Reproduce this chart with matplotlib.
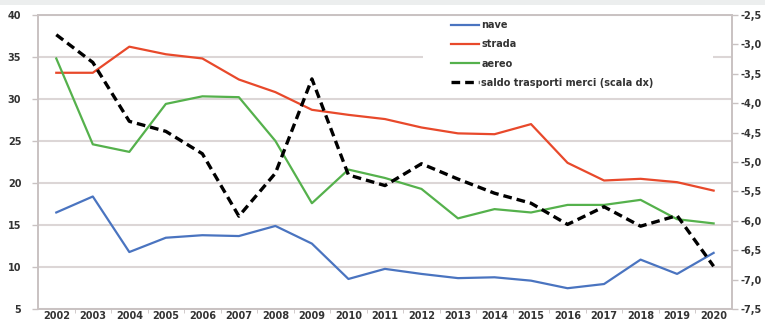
import numpy as np
import matplotlib.pyplot as plt
from matplotlib.patches import Rectangle
from matplotlib.ticker import FuncFormatter

anni = [str(a) for a in range(2002, 2021)]

nave = [16.5, 18.4, 11.8, 13.5, 13.8, 13.7, 14.9, 12.8, 8.6, 9.8, 9.2, 8.7, 8.8, 8.4, 7.5, 8.0, 10.9, 9.2, 11.7]
strada = [33.1, 33.1, 36.2, 35.3, 34.8, 32.3, 30.8, 28.7, 28.1, 27.6, 26.6, 25.9, 25.8, 27.0, 22.4, 20.3, 20.5, 20.1, 19.1]
aereo = [34.8, 24.6, 23.7, 29.4, 30.3, 30.2, 25.0, 17.6, 21.6, 20.6, 19.3, 15.8, 16.9, 16.5, 17.4, 17.4, 18.0, 15.7, 15.2]
saldo = [-2.84, -3.31, -4.31, -4.48, -4.86, -5.92, -5.19, -3.59, -5.22, -5.40, -5.03, -5.29,
         -5.53, -5.70, -6.06, -5.76, -6.09, -5.91, -6.77]

testo = '#333333'
bordo = '#c9c2c2'

plt.rcParams['font.family'] = ['DejaVu Sans']
plt.rcParams['font.weight'] = 'bold'

fig = plt.figure(figsize=(7.65, 3.23), dpi=100)
fig.patches.append(Rectangle((0, 0.985), 1, 0.015, transform=fig.transFigure,
                             facecolor='#eceeee', edgecolor='none'))
ax = fig.add_axes([0.0497, 0.0425, 0.907, 0.912])
x = np.arange(len(anni))

# griglia orizzontale sotto le serie
ax.set_axisbelow(True)
ax.yaxis.grid(True, color='#dcd6d6', linewidth=1.5)
ax.add_patch(Rectangle((0.555, 0.72), 0.418, 0.27, transform=ax.transAxes,
                       facecolor='white', edgecolor='none', zorder=1))

l1, = ax.plot(x, nave, color='#4a74c0', lw=1.6, label='nave', zorder=3)
l2, = ax.plot(x, strada, color='#e8492b', lw=1.6, label='strada', zorder=3)
l3, = ax.plot(x, aereo, color='#55b14c', lw=1.6, label='aereo', zorder=3)

ax.set_xlim(-0.5, len(anni) - 0.5)
ax.set_ylim(5, 40)
ax.set_yticks(np.arange(5, 41, 5))
ax.set_xticks(x)
ax.set_xticklabels(anni)
ax.set_xticks(np.arange(0.5, len(anni) - 1, 1), minor=True)

ax2 = ax.twinx()
l4, = ax2.plot(x, saldo, color='black', lw=2.4, dashes=(2.6, 1.5),
               label='saldo trasporti merci (scala dx)')
ax2.set_ylim(-7.5, -2.5)
ax2.set_yticks(np.arange(-7.5, -2.49, 0.5))
ax2.yaxis.set_major_formatter(FuncFormatter(lambda v, p: f'{v:.1f}'.replace('.', ',')))

for a in (ax, ax2):
    for s in a.spines.values():
        s.set_color(bordo)
        s.set_linewidth(1.2)
    a.tick_params(axis='both', colors=bordo, labelcolor=testo, labelsize=7, width=1, length=4)
ax.tick_params(axis='x', which='major', length=0, pad=1.5)
ax.tick_params(axis='x', which='minor', length=3, color=bordo)
ax.tick_params(axis='y', pad=8)
ax2.tick_params(axis='y', pad=2)

leg = ax2.legend(handles=[l1, l2, l3, l4], loc='upper left', bbox_to_anchor=(0.59, 0.995),
                 frameon=False, fontsize=7, handlelength=2.9, handletextpad=0.2,
                 labelspacing=0.95, borderaxespad=0)
for t in leg.get_texts():
    t.set_color(testo)

plt.savefig('out.png', dpi=100)
